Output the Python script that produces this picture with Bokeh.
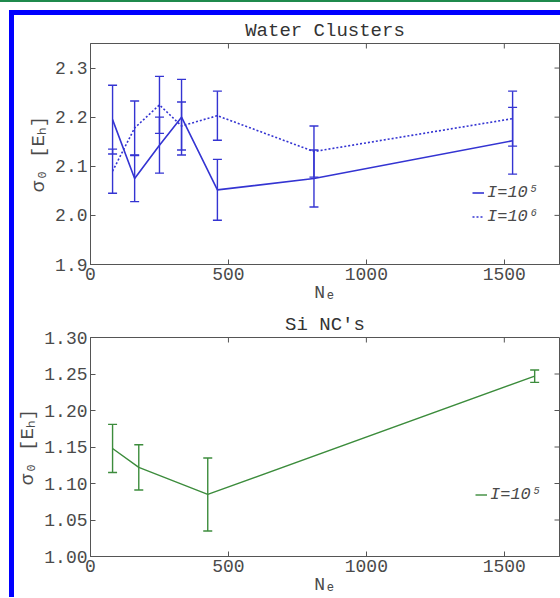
import math
from bokeh.plotting import figure
from bokeh.models import (ColumnDataSource, Whisker, TeeHead, Legend,
                          LegendItem, FixedTicker, Range1d)
from bokeh.layouts import column
from bokeh.embed import file_html
from bokeh.resources import INLINE

# ---------------- data ----------------
water_ne = [80, 160, 250, 330, 460, 810, 1530]
water_i5 = [2.195, 2.075, 2.143, 2.200, 2.052, 2.075, 2.152]
water_i5_err = [0.070, 0.047, 0.057, 0.077, 0.062, 0.058, 0.068]
water_i6 = [2.090, 2.178, 2.225, 2.182, 2.203, 2.130, 2.197]
water_i6_err = [0.045, 0.055, 0.058, 0.049, 0.050, 0.052, 0.056]

si_ne = [80, 175, 425, 1610]
si_i5 = [1.148, 1.122, 1.085, 1.247]
si_i5_err = [0.033, 0.031, 0.050, 0.0085]

x_ticks = [0, 500, 1000, 1500]
x_tick_labels = ["0", "500", "1000", "1500"]
water_y_ticks = [1.9, 2.0, 2.1, 2.2, 2.3]
water_y_labels = ["1.9", "2.0", "2.1", "2.2", "2.3"]
si_y_ticks = [1.00, 1.05, 1.10, 1.15, 1.20, 1.25, 1.30]
si_y_labels = ["1.00", "1.05", "1.10", "1.15", "1.20", "1.25", "1.30"]

X_RANGE = (0, 1700)
WATER_Y_RANGE = (1.9, 2.35)
SI_Y_RANGE = (1.0, 1.3)

BLUE = "#3434d2"
GREEN = "#3c8c3c"
AXC = "#555555"
TXT = "#4a4a4a"
MONO = "Liberation Mono"


def style_axis(ax, ticks, labels):
    ax.ticker = FixedTicker(ticks=ticks)
    ax.major_label_overrides = {t: l for t, l in zip(ticks, labels)}
    ax.major_tick_in = 5
    ax.major_tick_out = 0
    ax.minor_tick_in = 0
    ax.minor_tick_out = 0
    ax.axis_line_color = AXC
    ax.major_tick_line_color = AXC
    ax.major_label_text_font = MONO
    ax.major_label_text_color = TXT
    ax.major_label_text_font_size = "18px"
    ax.major_label_standoff = 3
    ax.axis_label_text_font = MONO
    ax.axis_label_text_color = TXT
    ax.axis_label_text_font_style = "normal"


def make_fig(title, height, yr, yticks, ylabels, top, bottom):
    p = figure(width=546, height=height, x_range=Range1d(*X_RANGE), y_range=Range1d(*yr),
               output_backend="svg", toolbar_location=None,
               min_border_left=75, min_border_right=1, min_border_top=top,
               min_border_bottom=bottom)
    p.grid.visible = False
    p.outline_line_color = AXC
    p.title.text = title
    p.title.align = "center"
    p.title.text_font = MONO
    p.title.text_font_style = "normal"
    p.title.text_font_size = "19px"
    p.title.text_color = "#333333"
    p.title.standoff = 4
    style_axis(p.xaxis[0], x_ticks, x_tick_labels)
    style_axis(p.yaxis[0], yticks, ylabels)
    p.xaxis[0].axis_label = "Nₑ"
    p.xaxis[0].axis_label_text_font_size = "18px"
    p.xaxis[0].axis_label_standoff = 0
    p.yaxis[0].axis_label = "σ₀ [Eₕ]"
    p.yaxis[0].axis_label_text_font_size = "19px"
    p.yaxis[0].axis_label_standoff = 2
    # inward ticks on the top and right edges of the box
    p.ray(x=x_ticks, y=[yr[1]] * len(x_ticks), length=5, length_units="screen",
          angle=-math.pi / 2, line_color=AXC, line_width=1)
    p.ray(x=[X_RANGE[1]] * len(yticks), y=yticks, length=5, length_units="screen",
          angle=math.pi, line_color=AXC, line_width=1)
    return p


def add_series(p, xs, ys, errs, color, dash, width=1.6):
    lower = [y - e for y, e in zip(ys, errs)]
    upper = [y + e for y, e in zip(ys, errs)]
    src = ColumnDataSource(dict(x=xs, y=ys, lower=lower, upper=upper))
    r = p.line("x", "y", source=src, line_color=color, line_width=width, line_dash=dash)
    w = Whisker(base="x", upper="upper", lower="lower", source=src, dimension="height",
                line_color=color, line_width=1.4,
                upper_head=TeeHead(size=9, line_color=color, line_width=1.4),
                lower_head=TeeHead(size=9, line_color=color, line_width=1.4))
    p.add_layout(w)
    return r


def make_legend(items, loc):
    return Legend(items=items, location=loc, padding=0, margin=0, spacing=5,
                  glyph_width=12, glyph_height=15, label_standoff=3,
                  label_text_font=MONO, label_text_font_style="italic",
                  label_text_font_size="17px", label_text_color=TXT,
                  background_fill_alpha=0, border_line_alpha=0)


# ---------------- top: water clusters ----------------
p1 = make_fig("Water Clusters", 290, WATER_Y_RANGE, water_y_ticks, water_y_labels, 27, 40)
r5 = add_series(p1, water_ne, water_i5, water_i5_err, BLUE, "solid")
r6 = add_series(p1, water_ne, water_i6, water_i6_err, BLUE, "2 2")
p1.add_layout(make_legend([LegendItem(label="I=10⁵", renderers=[r5]),
                           LegendItem(label="I=10⁶", renderers=[r6])], (382, 38)))

# ---------------- bottom: Si NC's ----------------
p2 = make_fig("Si NC's", 292, SI_Y_RANGE, si_y_ticks, si_y_labels, 32, 39)
rs = add_series(p2, si_ne, si_i5, si_i5_err, GREEN, "solid", width=1.4)
p2.add_layout(make_legend([LegendItem(label="I=10⁵", renderers=[rs])], (385, 52)))

inner = column(p1, p2, spacing=0, margin=(8, 0, 0, 9),
               styles={"border-left": "5px solid #0000ff", "border-top": "5px solid #0000ff"})
layout = column(inner, spacing=0, styles={"border-top": "2px solid #1f8a4c"})

open("out.html", "w").write(file_html(layout, INLINE))
